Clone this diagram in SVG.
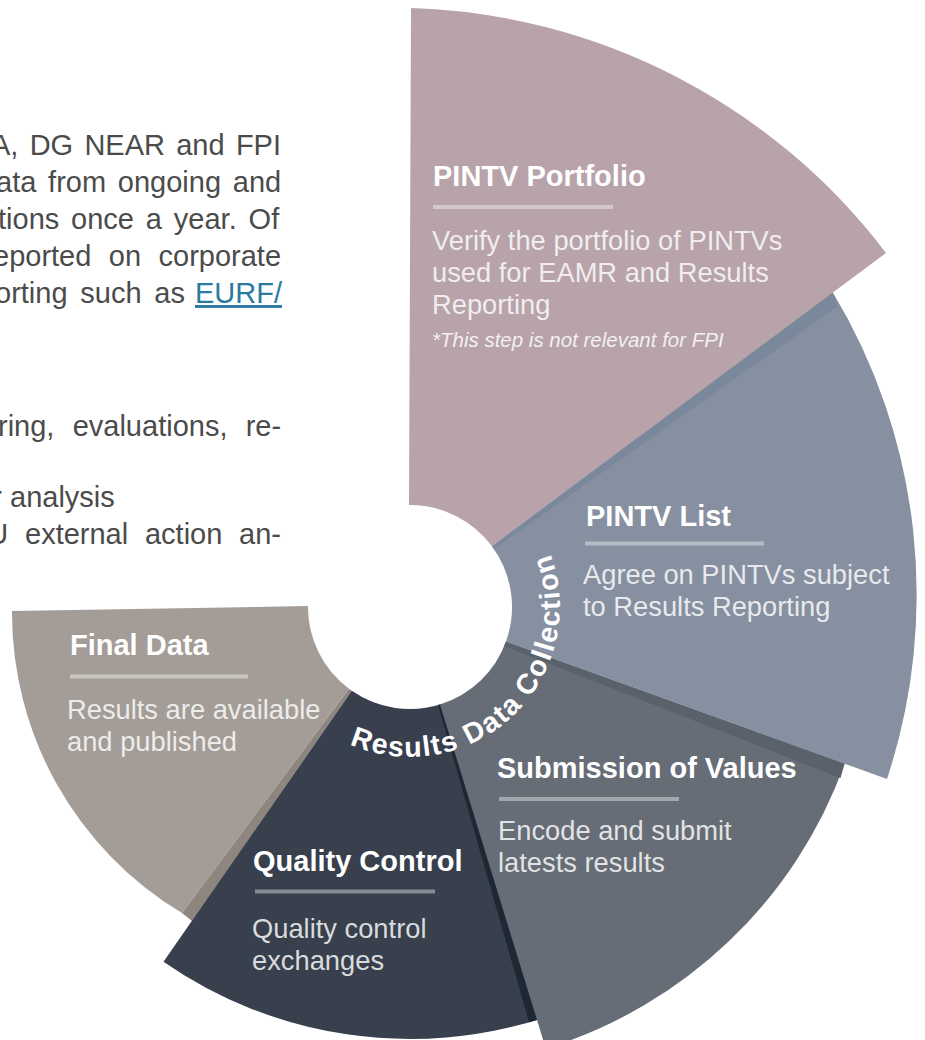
<svg xmlns="http://www.w3.org/2000/svg" width="925" height="1040" viewBox="0 0 925 1040">
<style>
  text{font-family:"Liberation Sans",Arial,Helvetica,sans-serif}
  .title{font-weight:bold;font-size:29px;fill:#ffffff}
  .desc{font-size:27.3px;fill:#ffffff;fill-opacity:.82}
  .note{font-size:20.5px;font-style:italic;fill:#ffffff;fill-opacity:.85}
  .bar{fill:#ffffff;fill-opacity:.4}
  .para{font-size:29px;fill:#4b4b4b}
  .link{fill:#2a7aa1;text-decoration:underline}
  .ring{font-weight:bold;font-size:28.5px;fill:#ffffff;letter-spacing:1.5px}
</style>
<defs>
  <path id="ringPath" d="M339.6,739.4 A150,150 0 0,0 524.9,510.6"/>
</defs>

<g id="paragraph">
  <text class="para" x="-9" y="155" word-spacing="3.2">A, DG NEAR and FPI</text>
  <text class="para" x="-4" y="192" word-spacing="3.7">ata from ongoing and</text>
  <text class="para" x="-2" y="229" word-spacing="3.8">tions once a year. Of</text>
  <text class="para" x="-7" y="266" word-spacing="9.4">eported on corporate</text>
  <text class="para" x="-5" y="303" word-spacing="4.7">orting such as</text>
  <text class="para link" x="195" y="303">EURF/</text>
  <text class="para" x="-2" y="436" word-spacing="10.2">ring, evaluations, re-</text>
  <text class="para" x="-7.7" y="507">r analysis</text>
  <text class="para" x="-12.7" y="544" word-spacing="8.7">U external action an-</text>
</g>

<g id="final-data">
  <path d="M308,606 L12,611 A350,350 0 0,0 182,913 L349,688.8 A102,102 0 0,1 308,606 Z" fill="#a49d97"/>
  <path d="M349,688.8 L182,913 L192,921 L351.8,690.8 Z" fill="#8e857e"/>
  <text class="title" x="70" y="655">Final Data</text>
  <rect class="bar" x="70" y="674.5" width="178" height="4"/>
  <text class="desc" x="67" y="719">Results are available</text>
  <text class="desc" x="67" y="751">and published</text>
</g>

<g id="quality-control">
  <path d="M441.5,704 L543.5,1017.9 A432,432 0 0,1 163.5,961.7 L351.8,690.8 A102,102 0 0,0 441.5,704 Z" fill="#383f4d"/>
  <path d="M441.5,704 L543.5,1017.9 A432,432 0 0,1 529.1,1022.3 L438.1,705 Z" fill="#1e2835"/>
  <text class="title" x="253" y="871">Quality Control</text>
  <rect class="bar" x="255" y="889.5" width="180" height="4"/>
  <text class="desc" x="252" y="938">Quality control</text>
  <text class="desc" x="252" y="970">exchanges</text>
</g>

<g id="submission-of-values">
  <path d="M506,641.5 L844.7,763.5 A462,462 0 0,1 545.8,1048.6 L440,704.5 A102,102 0 0,0 506,641.5 Z" fill="#666d77"/>
  <path d="M506,641.5 L844.7,763.5 L840.5,778 L504,646 Z" fill="#59616b"/>
  <text class="title" x="497" y="778">Submission of Values</text>
  <rect class="bar" x="499" y="797" width="180" height="4"/>
  <text class="desc" x="498" y="840">Encode and submit</text>
  <text class="desc" x="498" y="872">latests results</text>
</g>

<g id="pintv-list">
  <path d="M491.9,546.2 L832,291 A587,587 0 0,1 887,779 L506,641.5 A102,102 0 0,0 491.9,546.2 Z" fill="#8690a1"/>
  <path d="M491.9,546.2 L832,291 L838,306 L494,549 Z" fill="#79899b"/>
  <text class="title" x="586" y="526">PINTV List</text>
  <rect class="bar" x="585" y="541.5" width="179" height="4"/>
  <text class="desc" x="583" y="584">Agree on PINTVs subject</text>
  <text class="desc" x="583" y="616">to Results Reporting</text>
</g>

<g id="pintv-portfolio">
  <path d="M409,505 L411,8 A620,620 0 0,1 886,253 L491.9,546.2 A102,102 0 0,0 409,505 Z" fill="#b8a3aa"/>
  <text class="title" x="433" y="186">PINTV Portfolio</text>
  <rect class="bar" x="433" y="205" width="180" height="4"/>
  <text class="desc" x="432" y="250">Verify the portfolio of PINTVs</text>
  <text class="desc" x="432" y="282">used for EAMR and Results</text>
  <text class="desc" x="432" y="314">Reporting</text>
  <text class="note" x="432" y="347">*This step is not relevant for FPI</text>
</g>

<g id="ring-label">
  <text class="ring"><textPath href="#ringPath" startOffset="11">Results Data Collection</textPath></text>
</g>
</svg>
